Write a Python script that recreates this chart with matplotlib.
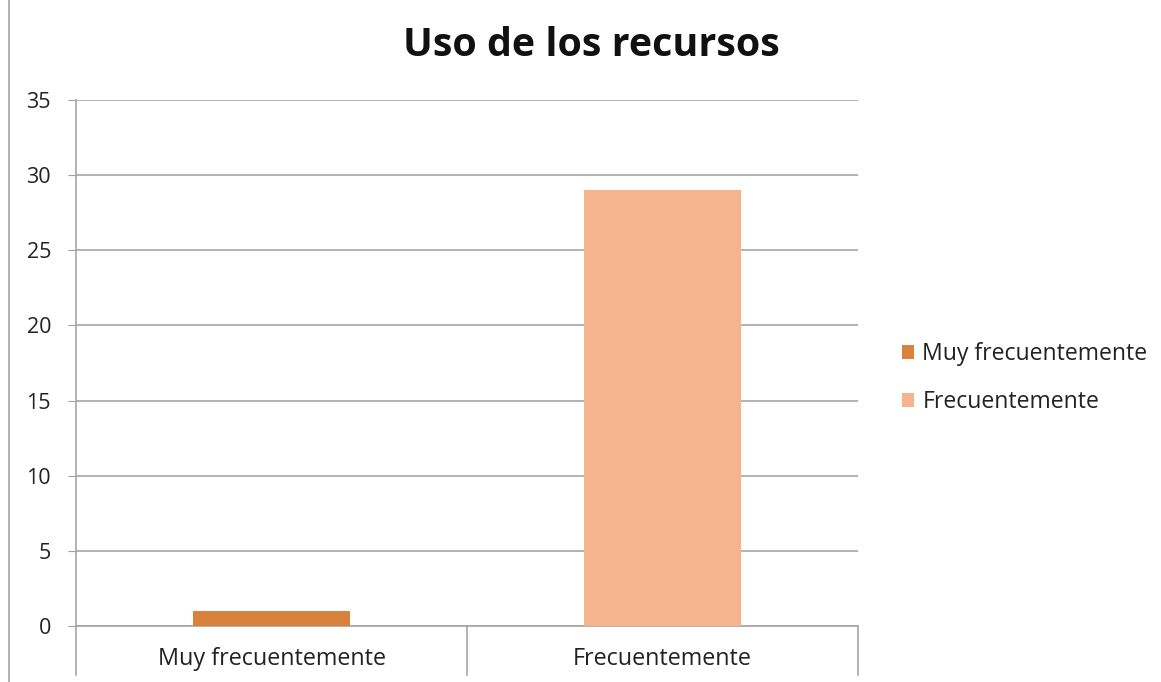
import matplotlib
matplotlib.use("Agg")
import matplotlib.pyplot as plt
from matplotlib.patches import Patch
from matplotlib.lines import Line2D

categories = ["Muy frecuentemente", "Frecuentemente"]
values = [1, 29]
colors = ["#D8823D", "#F5B48E"]
yticks = [0, 5, 10, 15, 20, 25, 30, 35]
title = "Uso de los recursos"

plt.rcParams['font.family'] = ['Open Sans', 'DejaVu Sans']

fig = plt.figure(figsize=(11.61, 6.82), dpi=100)
ax = fig.add_axes([76/1161, 56/682, (858-76)/1161, (626-100)/682])

x = list(range(len(categories)))
ax.bar(x, values, width=0.4, color=colors, zorder=3)
ax.set_xlim(-0.5, len(categories) - 0.5)
ax.set_ylim(0, 35)
ax.set_yticks(yticks)
ax.set_yticklabels([str(t) for t in yticks], fontsize=15.5, color="#222222")
ax.tick_params(axis='y', length=6, color="#A0A0A0", pad=12)
ax.grid(axis='y', color="#A6A6A6", linewidth=1.2, zorder=0)

# category labels & separators
ax.set_xticks(x)
ax.set_xticklabels(categories, fontsize=16.8, color="#222222")
ax.tick_params(axis='x', length=0, pad=15)
for b in [-0.5, 0.5, 1.5]:
    ax.plot([b, b], [0, -0.093], transform=ax.get_xaxis_transform(), color="#A6A6A6",
            linewidth=1.2, clip_on=False)

for s in ['top', 'right']:
    ax.spines[s].set_visible(False)
ax.spines['left'].set_color("#A6A6A6")
ax.spines['bottom'].set_color("#A6A6A6")
ax.spines['left'].set_linewidth(1.2)
ax.spines['bottom'].set_linewidth(1.2)

fig.text(591/1161, 1 - 45/682, title, ha='center', va='center', fontsize=28.4,
         fontweight='bold', color="#111111")

handles = [Patch(facecolor=c, edgecolor='none') for c in colors]
fig.legend(handles, categories, loc='center left', bbox_to_anchor=(881/1161, 1 - 378/682),
           frameon=False, fontsize=16.6, handlelength=0.55, handleheight=0.55,
           handletextpad=0.35, labelspacing=1.05, labelcolor="#222222")

fig.add_artist(Line2D([9/1161, 9/1161], [0, 1], transform=fig.transFigure,
                      color="#A6A6A6", linewidth=1.2))

fig.savefig("out.png", dpi=100, facecolor="white")
